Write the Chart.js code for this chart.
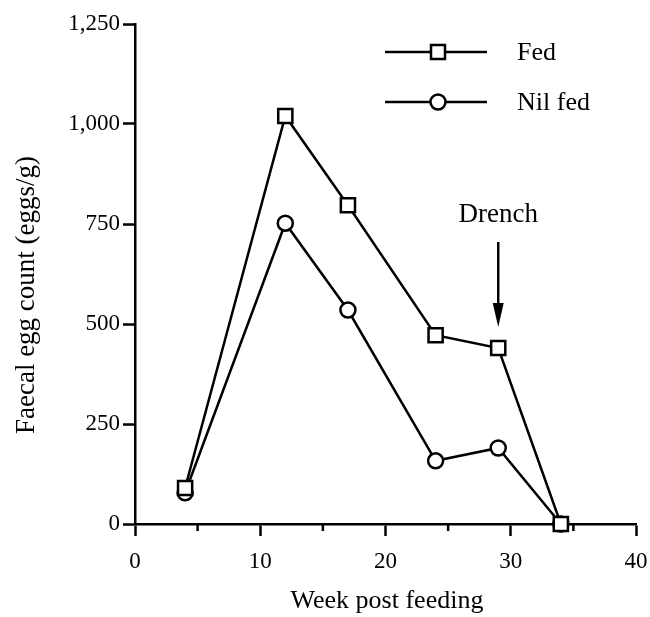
<!DOCTYPE html>
<html>
<head>
<meta charset="utf-8">
<script src="https://cdn.jsdelivr.net/npm/chart.js@4/dist/chart.umd.min.js"></script>
<style>
  body { margin: 0; background: #fff; }
  canvas { display: block; }
</style>
</head>
<body>
<canvas id="eggChart" width="650" height="617"></canvas>
<script>
// weeks after feeding
const weeks = [4, 12, 17, 24, 29, 34];
// faecal egg counts (eggs/g)
const fed = [90, 1020, 797, 472, 440, 0];
const nilFed = [78, 752, 535, 158, 190, 0];
const yTicks = [0, 250, 500, 750, 1000, 1250];
const xTicks = [0, 10, 20, 30, 40];
const xMinorTicks = [5, 15, 25, 35];
const drenchWeek = 29;

const serif = '"Liberation Serif", "DejaVu Serif", serif';

function pts(ys) {
  return weeks.map((w, i) => ({ x: w, y: ys[i] }));
}

// extra drawing: minor ticks, axis titles, legend, drench arrow
const extras = {
  id: 'extras',
  afterDraw(chart) {
    const c = chart.ctx;
    const xs = chart.scales.x, ys = chart.scales.y;
    const area = chart.chartArea;
    c.save();
    c.strokeStyle = '#000';
    c.fillStyle = '#000';

    // minor ticks on x
    c.lineWidth = 2.5;
    xMinorTicks.forEach(v => {
      const px = xs.getPixelForValue(v);
      c.beginPath();
      c.moveTo(px, area.bottom);
      c.lineTo(px, area.bottom + 7);
      c.stroke();
    });

    // axis titles
    c.font = '26px ' + serif;
    c.textAlign = 'center';
    c.textBaseline = 'alphabetic';
    c.fillText('Week post feeding', 387, 608);

    c.save();
    c.translate(27, 295);
    c.rotate(-Math.PI / 2);
    c.font = '27px ' + serif;
    c.textBaseline = 'middle';
    c.fillText('Faecal egg count (eggs/g)', 0, 0);
    c.restore();

    // legend
    const items = [
      { label: 'Fed', style: 'rect', y: 52 },
      { label: 'Nil fed', style: 'circle', y: 102 }
    ];
    c.font = '26px ' + serif;
    c.textAlign = 'left';
    c.textBaseline = 'middle';
    items.forEach(it => {
      c.lineWidth = 2.5;
      c.beginPath();
      c.moveTo(385, it.y);
      c.lineTo(487, it.y);
      c.stroke();
      c.fillStyle = '#fff';
      c.beginPath();
      if (it.style === 'rect') {
        c.rect(438 - 7, it.y - 7, 14, 14);
      } else {
        c.arc(438, it.y, 7.5, 0, Math.PI * 2);
      }
      c.fill();
      c.stroke();
      c.fillStyle = '#000';
      c.fillText(it.label, 517, it.y + 1);
    });

    // drench arrow
    const ax = xs.getPixelForValue(drenchWeek);
    const tipY = ys.getPixelForValue(fed[weeks.indexOf(drenchWeek)]) - 21;
    c.font = '27px ' + serif;
    c.textAlign = 'center';
    c.textBaseline = 'alphabetic';
    c.fillText('Drench', ax, 222);
    c.lineWidth = 2.5;
    c.beginPath();
    c.moveTo(ax, 242);
    c.lineTo(ax, tipY - 20);
    c.stroke();
    c.beginPath();
    c.moveTo(ax - 5.5, tipY - 24);
    c.lineTo(ax + 5.5, tipY - 24);
    c.lineTo(ax, tipY);
    c.closePath();
    c.fill();

    c.restore();
  }
};

new Chart(document.getElementById('eggChart'), {
  type: 'line',
  data: {
    datasets: [
      {
        label: 'Fed',
        data: pts(fed),
        borderColor: '#000',
        borderWidth: 2.5,
        pointStyle: 'rect',
        pointRadius: 10,
        pointBorderWidth: 2.5,
        pointBackgroundColor: '#fff',
        pointBorderColor: '#000',
        clip: false
      },
      {
        label: 'Nil fed',
        data: pts(nilFed),
        borderColor: '#000',
        borderWidth: 2.5,
        pointStyle: 'circle',
        pointRadius: 7.5,
        pointBorderWidth: 2.5,
        pointBackgroundColor: '#fff',
        pointBorderColor: '#000',
        clip: false
      }
    ]
  },
  options: {
    responsive: false,
    animation: false,
    devicePixelRatio: 1,
    layout: { padding: { top: 24, right: 14, left: 0, bottom: 0 } },
    plugins: {
      legend: { display: false },
      tooltip: { enabled: false }
    },
    scales: {
      x: {
        type: 'linear',
        min: 0,
        max: 40,
        afterBuildTicks: s => { s.ticks = xTicks.map(v => ({ value: v })); },
        afterFit: s => { s.height = 93; s.paddingLeft = 0; s.paddingRight = 0; },
        ticks: {
          color: '#000',
          font: { family: serif, size: 23 },
          padding: 12
        },
        grid: {
          drawOnChartArea: false,
          tickLength: 12,
          tickWidth: 2.5,
          tickColor: '#000'
        },
        border: { color: '#000', width: 2.5 }
      },
      y: {
        min: 0,
        max: 1250,
        afterBuildTicks: s => { s.ticks = yTicks.map(v => ({ value: v })); },
        afterFit: s => { s.width = 135; s.paddingTop = 0; s.paddingBottom = 0; },
        ticks: {
          color: '#000',
          font: { family: serif, size: 23 },
          padding: 3,
          callback: v => v.toLocaleString('en-US')
        },
        grid: {
          drawOnChartArea: false,
          tickLength: 12,
          tickWidth: 2.5,
          tickColor: '#000'
        },
        border: { color: '#000', width: 2.5 }
      }
    }
  },
  plugins: [extras]
});
</script>
</body>
</html>
